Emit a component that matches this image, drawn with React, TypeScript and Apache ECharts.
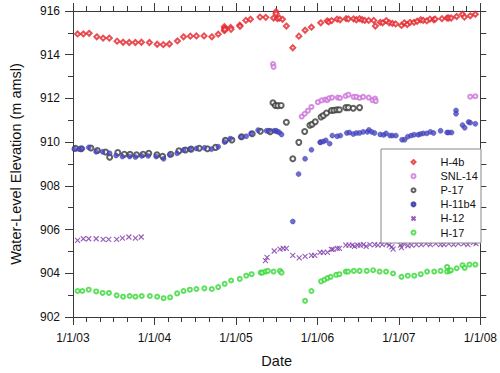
import React, { useEffect, useRef } from "react";
import * as echarts from "echarts";

// [decimal year, water level (m amsl)]
const h4bData: number[][] = [
  [2003.056, 914.95], [2003.127, 914.95], [2003.198, 914.98], [2003.292, 914.82], [2003.37, 914.76], [2003.446, 914.76],
  [2003.541, 914.62], [2003.615, 914.57], [2003.69, 914.56], [2003.766, 914.56], [2003.84, 914.57], [2003.938, 914.56],
  [2004.033, 914.48], [2004.109, 914.46], [2004.183, 914.49], [2004.282, 914.63], [2004.357, 914.82], [2004.44, 914.85],
  [2004.515, 914.86], [2004.609, 914.86], [2004.704, 914.82], [2004.783, 914.94], [2004.858, 915.28], [2004.862, 915.2],
  [2004.858, 915.1], [2004.865, 915.15], [2004.935, 915.25], [2004.94, 915.16], [2005.047, 915.35], [2005.05, 915.3],
  [2005.122, 915.57], [2005.178, 915.62], [2005.296, 915.72], [2005.367, 915.71], [2005.462, 915.68], [2005.493, 915.97],
  [2005.493, 915.88], [2005.509, 915.65], [2005.533, 915.68], [2005.572, 915.62], [2005.619, 915.31], [2005.698, 914.32],
  [2005.773, 914.85], [2005.849, 915.12], [2005.927, 915.26], [2006.041, 915.46], [2006.121, 915.55], [2006.14, 915.5],
  [2006.175, 915.56], [2006.243, 915.63], [2006.278, 915.6], [2006.353, 915.65], [2006.381, 915.64], [2006.444, 915.64],
  [2006.479, 915.6], [2006.518, 915.65], [2006.55, 915.6], [2006.582, 915.57], [2006.63, 915.57], [2006.692, 915.57],
  [2006.712, 915.31], [2006.772, 915.48], [2006.802, 915.46], [2006.846, 915.56], [2006.882, 915.46], [2006.921, 915.43],
  [2006.961, 915.41], [2007.032, 915.34], [2007.067, 915.46], [2007.103, 915.38], [2007.138, 915.48], [2007.186, 915.48],
  [2007.225, 915.53], [2007.269, 915.6], [2007.299, 915.57], [2007.343, 915.55], [2007.382, 915.63], [2007.43, 915.6],
  [2007.446, 915.63], [2007.529, 915.65], [2007.592, 915.68], [2007.612, 915.68], [2007.643, 915.68], [2007.71, 915.75],
  [2007.781, 915.85], [2007.805, 915.72], [2007.876, 915.78], [2007.939, 915.85],
];

const snl14Data: number[][] = [
  [2005.455, 913.57], [2005.462, 913.44], [2005.808, 911.17], [2005.844, 911.3], [2005.884, 911.44], [2005.927, 911.61],
  [2006.006, 911.83], [2006.053, 911.91], [2006.097, 911.95], [2006.121, 911.92], [2006.144, 912.01], [2006.18, 912.04],
  [2006.251, 912.04], [2006.278, 912.02], [2006.346, 912.11], [2006.381, 912.17], [2006.444, 912.07], [2006.479, 912.07],
  [2006.518, 912.02], [2006.562, 912.07], [2006.63, 912.04], [2006.677, 911.92], [2006.708, 911.99], [2006.716, 911.88],
  [2007.876, 912.08], [2007.939, 912.1],
];

const p17Data: number[][] = [
  [2003.03, 909.72], [2003.1, 909.7], [2003.22, 909.73], [2003.3, 909.62], [2003.4, 909.55], [2003.45, 909.31],
  [2003.55, 909.52], [2003.63, 909.45], [2003.7, 909.44], [2003.78, 909.42], [2003.86, 909.45], [2003.93, 909.49],
  [2004.03, 909.42], [2004.1, 909.35], [2004.2, 909.45], [2004.3, 909.6], [2004.38, 909.64], [2004.45, 909.68],
  [2004.55, 909.72], [2004.65, 909.7], [2004.75, 909.76], [2004.87, 910.08], [2004.95, 910.1], [2005.07, 910.25],
  [2005.2, 910.38], [2005.3, 910.5], [2005.42, 910.48],
  [2005.455, 911.8], [2005.484, 911.68], [2005.515, 911.67], [2005.555, 911.68], [2005.619, 910.91], [2005.698, 909.24],
  [2005.772, 909.99], [2005.844, 910.49], [2005.908, 910.77], [2005.935, 910.82], [2005.974, 910.93], [2006.045, 911.15],
  [2006.073, 911.22], [2006.112, 911.33], [2006.172, 911.45], [2006.203, 911.46], [2006.239, 911.48], [2006.27, 911.48],
  [2006.349, 911.58], [2006.381, 911.58], [2006.44, 911.55], [2006.518, 911.58],
];

const h11b4Data: number[][] = [
  [2003.015, 909.68], [2003.075, 909.68], [2003.115, 909.7], [2003.193, 909.76], [2003.284, 909.56], [2003.363, 909.56],
  [2003.45, 909.49], [2003.529, 909.39], [2003.607, 909.34], [2003.695, 909.34], [2003.766, 909.32], [2003.844, 909.37],
  [2003.923, 909.37], [2004.021, 909.34], [2004.112, 909.24], [2004.187, 909.42], [2004.278, 909.49], [2004.357, 909.64],
  [2004.435, 909.68], [2004.515, 909.71], [2004.613, 909.74], [2004.701, 909.68], [2004.783, 909.79], [2004.862, 910.0],
  [2004.929, 910.16], [2005.059, 910.23], [2005.127, 910.27], [2005.186, 910.4], [2005.272, 910.55], [2005.375, 910.52],
  [2005.402, 910.52], [2005.47, 910.52], [2005.493, 910.52], [2005.509, 910.48], [2005.533, 910.45], [2005.56, 910.35],
  [2005.698, 906.37], [2005.769, 908.54], [2005.849, 909.24], [2005.927, 909.65], [2006.033, 909.99], [2006.041, 910.0],
  [2006.073, 910.03], [2006.104, 910.08], [2006.151, 909.93], [2006.183, 910.3], [2006.243, 910.27], [2006.282, 910.3],
  [2006.361, 910.42], [2006.393, 910.44], [2006.44, 910.37], [2006.479, 910.42], [2006.518, 910.42], [2006.562, 910.47],
  [2006.613, 910.47], [2006.633, 910.56], [2006.665, 910.47], [2006.701, 910.42], [2006.772, 910.35], [2006.814, 910.33],
  [2006.843, 910.4], [2006.893, 910.3], [2006.921, 910.3], [2006.964, 910.3], [2007.039, 910.11], [2007.071, 910.11],
  [2007.11, 910.25], [2007.15, 910.3], [2007.186, 910.34], [2007.237, 910.34], [2007.264, 910.37], [2007.299, 910.4],
  [2007.343, 910.4], [2007.387, 910.47], [2007.426, 910.42], [2007.512, 910.52], [2007.592, 910.44], [2007.612, 910.44],
  [2007.647, 910.44], [2007.702, 911.45], [2007.702, 911.3], [2007.781, 910.78], [2007.808, 910.66], [2007.856, 910.92],
  [2007.876, 910.89], [2007.939, 910.84],
];

const h12Data: number[][] = [
  [2003.056, 905.51], [2003.127, 905.58], [2003.193, 905.58], [2003.284, 905.58], [2003.37, 905.55], [2003.438, 905.55],
  [2003.536, 905.55], [2003.607, 905.61], [2003.686, 905.66], [2003.766, 905.61], [2003.837, 905.66],
  [2005.363, 904.58], [2005.382, 904.73], [2005.47, 905.02], [2005.541, 905.11], [2005.58, 905.14], [2005.619, 905.14],
  [2005.698, 904.82], [2005.777, 904.7], [2005.849, 904.77], [2005.927, 904.82], [2005.967, 904.82], [2006.033, 904.96],
  [2006.073, 904.96], [2006.124, 904.96], [2006.172, 905.09], [2006.192, 905.09], [2006.243, 905.14], [2006.27, 905.14],
  [2006.349, 905.29], [2006.388, 905.29], [2006.428, 905.29], [2006.456, 905.23], [2006.495, 905.29], [2006.527, 905.29],
  [2006.566, 905.31], [2006.598, 905.23], [2006.645, 905.31], [2006.704, 905.31], [2006.743, 905.29], [2006.795, 905.31],
  [2006.85, 905.36], [2006.882, 905.29], [2006.914, 905.21], [2006.929, 905.11], [2007.02, 905.29], [2007.032, 905.17],
  [2007.059, 905.36], [2007.11, 905.26], [2007.157, 905.29], [2007.217, 905.31], [2007.276, 905.31], [2007.335, 905.36],
  [2007.387, 905.31], [2007.453, 905.36], [2007.512, 905.31], [2007.553, 905.31], [2007.612, 905.36], [2007.671, 905.31],
  [2007.73, 905.36], [2007.796, 905.36], [2007.848, 905.31], [2007.915, 905.4], [2007.947, 905.36],
];

const h17Data: number[][] = [
  [2003.056, 903.19], [2003.115, 903.19], [2003.193, 903.25], [2003.284, 903.17], [2003.363, 903.1], [2003.441, 903.1],
  [2003.536, 902.99], [2003.615, 902.93], [2003.695, 902.96], [2003.766, 902.93], [2003.844, 902.96], [2003.943, 902.96],
  [2004.033, 902.93], [2004.112, 902.86], [2004.192, 902.9], [2004.278, 903.08], [2004.357, 903.19], [2004.435, 903.25],
  [2004.515, 903.28], [2004.613, 903.31], [2004.704, 903.28], [2004.783, 903.37], [2004.862, 903.52], [2004.941, 903.67],
  [2005.047, 903.74], [2005.127, 903.89], [2005.193, 903.96], [2005.304, 904.03], [2005.323, 904.03], [2005.363, 904.08],
  [2005.391, 904.11], [2005.462, 904.08], [2005.541, 904.11], [2005.56, 904.03],
  [2005.849, 902.74], [2005.927, 903.19], [2006.045, 903.63], [2006.085, 903.7], [2006.124, 903.78], [2006.163, 903.84],
  [2006.231, 903.93], [2006.27, 903.96], [2006.349, 904.08], [2006.376, 904.08], [2006.447, 904.11], [2006.518, 904.11],
  [2006.606, 904.11], [2006.684, 904.14], [2006.763, 904.08], [2006.843, 904.08], [2006.929, 903.99], [2007.032, 903.84],
  [2007.11, 903.89], [2007.189, 903.89], [2007.269, 903.96], [2007.347, 904.08], [2007.434, 904.08], [2007.512, 904.11],
  [2007.592, 904.29], [2007.592, 904.08], [2007.624, 904.11], [2007.639, 904.14], [2007.71, 904.23], [2007.781, 904.37],
  [2007.808, 904.25], [2007.867, 904.4], [2007.939, 904.4],
];

const seriesNames = ["H-4b", "SNL-14", "P-17", "H-11b4", "H-12", "H-17"];
const xTicks = [2003, 2008, 1];
const yTicks = [902, 916, 2];

const FONT = "'Liberation Sans', Arial, sans-serif";
const AXIS_COLOR = "#3a3a3a";

export default function App() {
  const ref = useRef<HTMLDivElement>(null);
  useEffect(() => {
    if (!ref.current) return;
    const chart = echarts.init(ref.current, undefined, { renderer: "svg" });
    const axisCommon = {
      axisLine: { show: true, lineStyle: { color: AXIS_COLOR, width: 1 } },
      splitLine: { show: false },
    };
    const xLabel = (v: number) => "1/1/" + String(Math.round(v)).slice(2);
    chart.setOption({
      animation: false,
      backgroundColor: "#fff",
      textStyle: { fontFamily: FONT },
      grid: { left: 62, right: 16, top: 11, bottom: 45, containLabel: false },
      xAxis: [
        {
          type: "value", position: "bottom", min: xTicks[0], max: xTicks[1], interval: xTicks[2],
          name: "Date", nameLocation: "middle", nameGap: 36,
          nameTextStyle: { fontSize: 14.5, color: "#111", fontFamily: FONT },
          ...axisCommon,
          axisTick: { show: true, length: 8, lineStyle: { color: AXIS_COLOR } },
          minorTick: { show: true, splitNumber: 6, length: 5, lineStyle: { color: AXIS_COLOR } },
          axisLabel: { formatter: xLabel, fontSize: 12, color: "#111", margin: 15, fontFamily: FONT },
        },
        {
          type: "value", position: "top", min: xTicks[0], max: xTicks[1], interval: xTicks[2],
          ...axisCommon,
          axisTick: { show: true, length: 8, lineStyle: { color: AXIS_COLOR } },
          minorTick: { show: true, splitNumber: 6, length: 5, lineStyle: { color: AXIS_COLOR } },
          axisLabel: { show: false },
        },
      ],
      yAxis: [
        {
          type: "value", position: "left", min: yTicks[0], max: yTicks[1], interval: yTicks[2],
          name: "Water-Level Elevation (m amsl)", nameLocation: "middle", nameGap: 50,
          nameTextStyle: { fontSize: 14.5, color: "#111", fontFamily: FONT },
          ...axisCommon,
          axisTick: { show: true, length: 8, lineStyle: { color: AXIS_COLOR } },
          minorTick: { show: true, splitNumber: 2, length: 5, lineStyle: { color: AXIS_COLOR } },
          axisLabel: { fontSize: 12, color: "#111", margin: 13, fontFamily: FONT },
        },
        {
          type: "value", position: "right", min: yTicks[0], max: yTicks[1], interval: 1,
          ...axisCommon,
          axisTick: { show: true, length: 6, lineStyle: { color: AXIS_COLOR } },
          axisLabel: { show: false },
        },
      ],
      legend: {
        orient: "vertical",
        left: 409,
        top: 155,
        padding: 0,
        itemWidth: 4,
        itemHeight: 4,
        itemGap: 0,
        data: seriesNames,
        textStyle: { fontSize: 11, color: "#111", lineHeight: 14.1, fontFamily: FONT, padding: [0, 0, 0, 20] },
        z: 5,
      },
      graphic: [
        {
          type: "rect", z: 4,
          shape: { x: 381, y: 149, width: 100, height: 94 },
          style: { fill: "#fff", stroke: "#888", lineWidth: 1 },
        },
      ],
      series: [
        {
          name: seriesNames[0], type: "scatter", data: h4bData, symbol: "emptyDiamond", symbolSize: 5,
          itemStyle: { color: "#e3242b", borderWidth: 1.2 },
        },
        {
          name: seriesNames[1], type: "scatter", data: snl14Data, symbol: "emptyCircle", symbolSize: 4,
          itemStyle: { color: "#cc6fd8", borderWidth: 1.1 },
        },
        {
          name: seriesNames[2], type: "scatter", data: p17Data, symbol: "emptyCircle", symbolSize: 5,
          itemStyle: { color: "#3a3a3a", borderWidth: 1 },
        },
        {
          name: seriesNames[3], type: "scatter", data: h11b4Data, symbol: "circle", symbolSize: 5,
          itemStyle: { color: "#4848c8", borderColor: "#30309a", borderWidth: 0.5 },
        },
        {
          name: seriesNames[4], type: "scatter", data: h12Data, symbol: "path://M0,0L10,10M0,10L10,0", symbolSize: 5,
          itemStyle: { color: "none", borderColor: "#7a34a8", borderWidth: 1.1 },
        },
        {
          name: seriesNames[5], type: "scatter", data: h17Data, symbol: "emptyCircle", symbolSize: 4,
          itemStyle: { color: "#35d835", borderWidth: 1.3 },
        },
      ],
    });
    return () => chart.dispose();
  }, []);
  return (
    <div
      ref={ref}
      style={{ position: "absolute", left: 0, top: 0, width: 500, height: 373 }}
    />
  );
}
